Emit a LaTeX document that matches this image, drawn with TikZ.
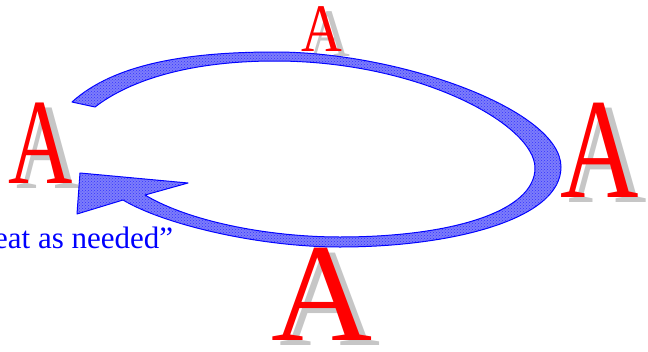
\documentclass[tikz,border=0pt]{standalone}
\usepackage{fontspec}
\usepackage{graphicx}
\setmainfont{Liberation Serif}
\usetikzlibrary{patterns}

\newcommand*{\bigA}[2]{\fontsize{#1}{#1}\selectfont\scalebox{#2}[1]{A}}

\begin{document}
\begin{tikzpicture}
[
	x=1pt,y=-1pt,
	letter/.style={anchor=base,inner sep=0pt,text=red},
	shadow/.style={anchor=base,inner sep=0pt,text=gray!45},
	band/.style={draw=blue,line width=1pt,line join=round,
		fill={rgb,255:red,125;green,125;blue,250},
		postaction={pattern=crosshatch dots,pattern color=blue!80}}
]

	\useasboundingbox (0,0) rectangle (648,351);

	% letters with shadows
	\foreach \nm/\px/\py/\fs/\xs in {left/41/183/122/0.73,top/322/51/68/0.83,right/599.5/197/143/0.76,bottom/322.5/340/140/1.0} {
		\node[shadow] (s\nm) at (\px+8,\py+5) {\bigA{\fs}{\xs}};
		\node[letter] (a\nm) at (\px,\py) {\bigA{\fs}{\xs}};
	}

	% loop arrow
	\filldraw[band] (72,102)
		.. controls (115,63) and (190,52) .. (275,52)
		.. controls (400,52) and (561,110) .. (561,167)
		.. controls (561,220) and (450,247) .. (340,247)
		.. controls (260,247) and (165,225) .. (123,200)
		-- (77,214) -- (80,173) -- (188,183) -- (145,195)
		.. controls (190,222) and (270,237) .. (340,237)
		.. controls (450,237) and (535,212) .. (535,168)
		.. controls (535,125) and (420,61) .. (275,61)
		.. controls (190,61) and (130,80) .. (95,107)
		-- cycle;

	% caption
	\node[anchor=base west,inner sep=0pt,text=blue,font=\fontsize{31}{31}\selectfont] (repeat) at (-6,248) {eat as needed”};

\end{tikzpicture}
\end{document}
